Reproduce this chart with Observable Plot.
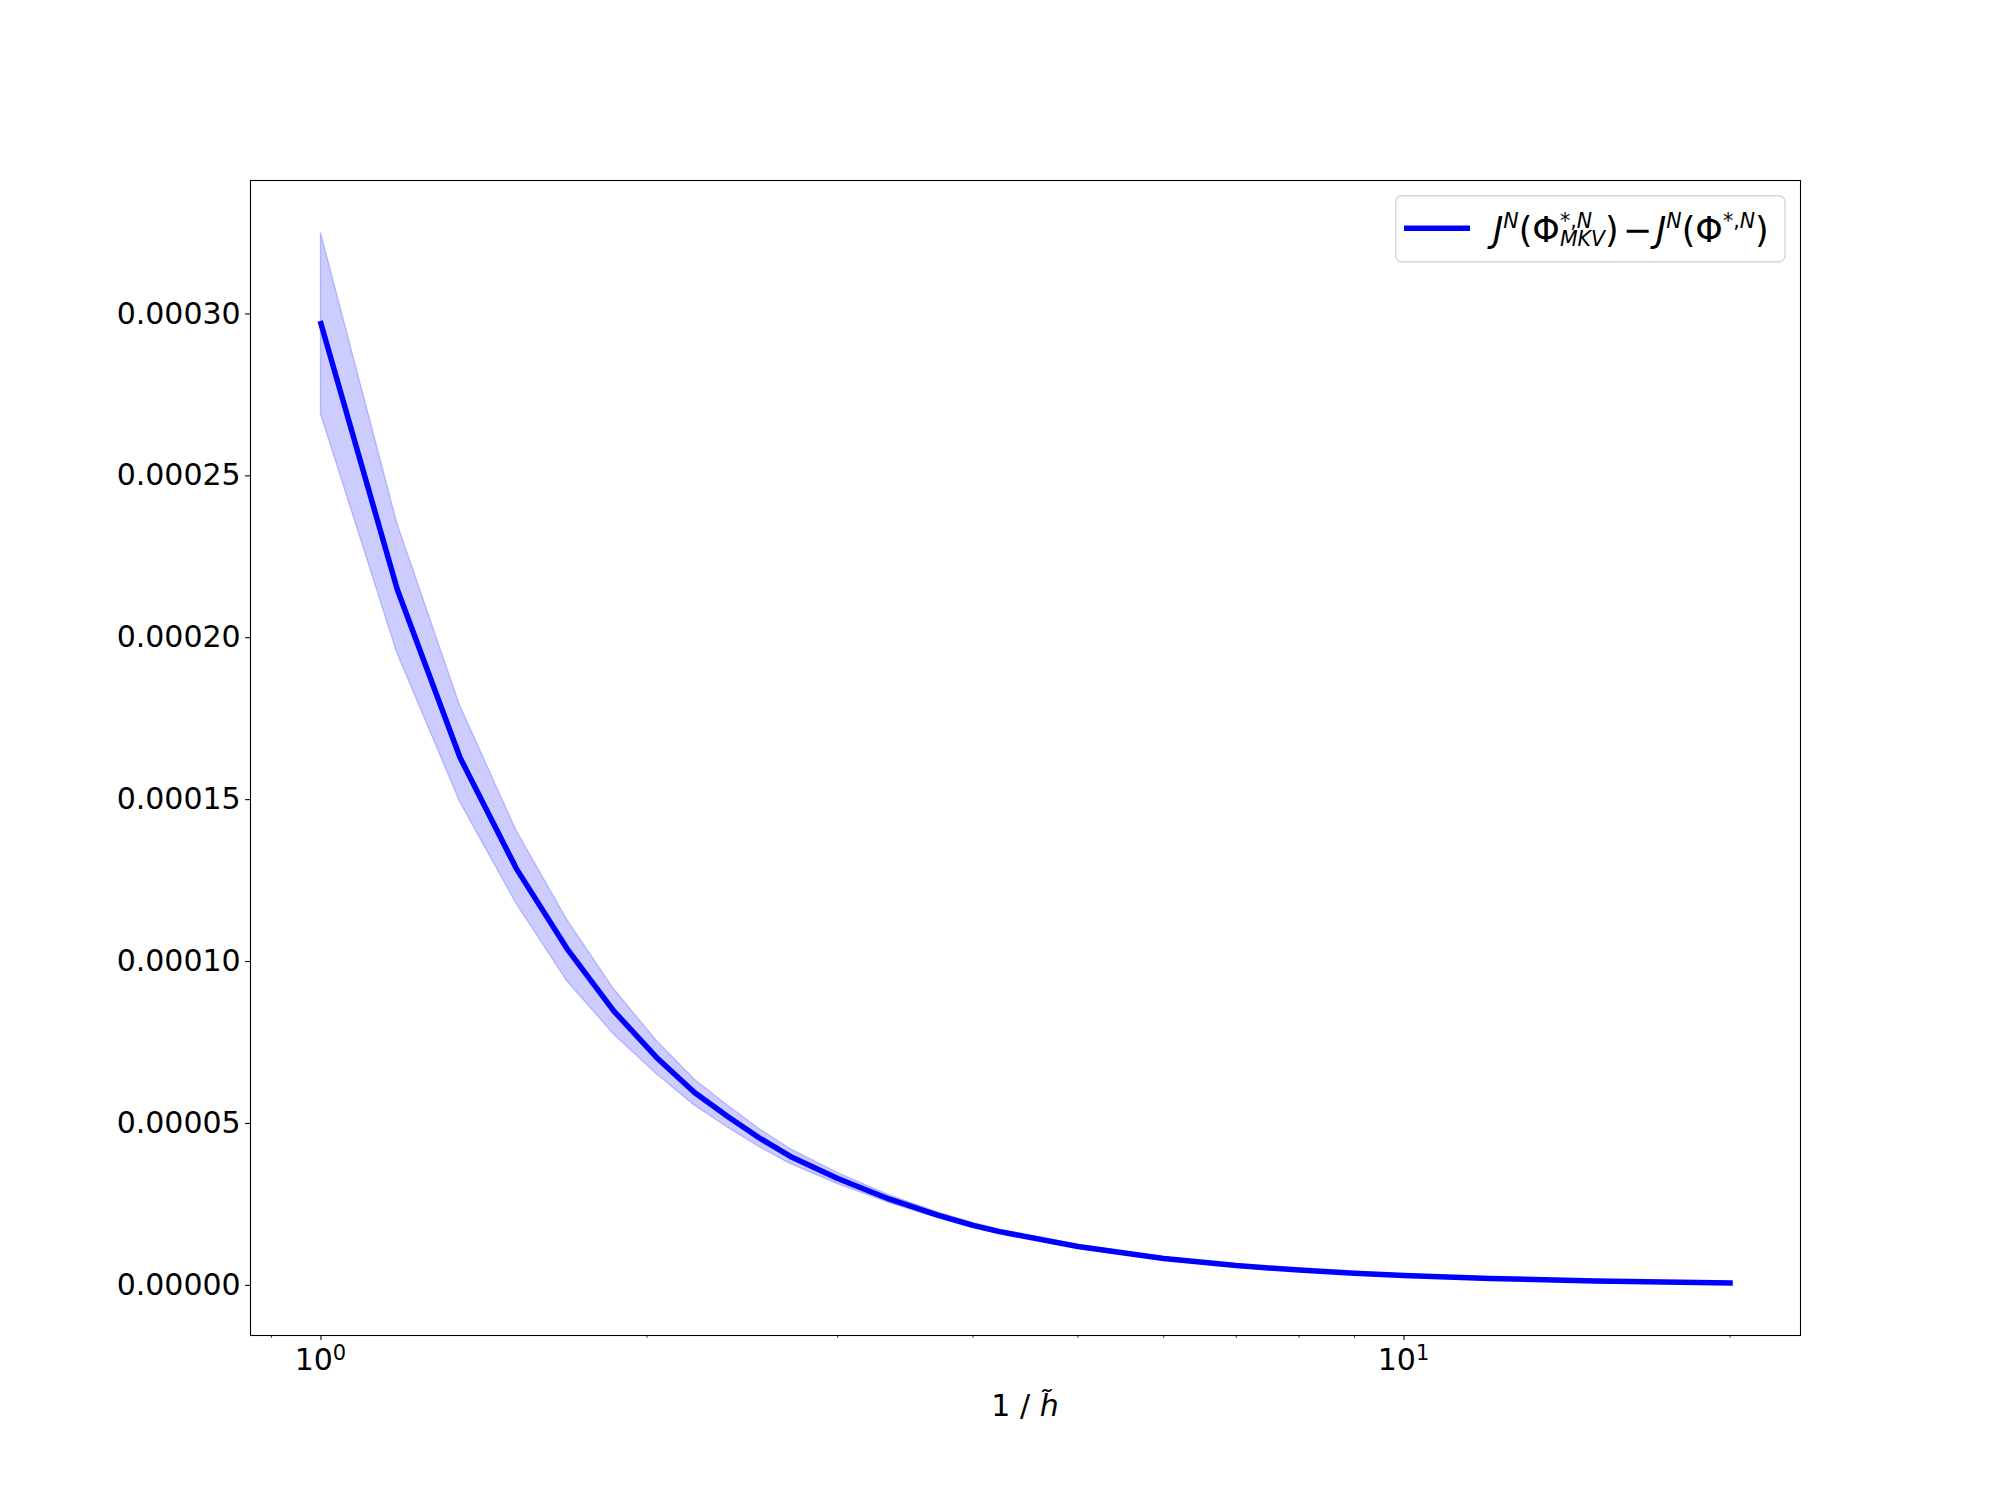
<!DOCTYPE html>
<html>
<head>
<meta charset="utf-8">
<script src="https://cdn.jsdelivr.net/npm/d3@7"></script>
<script src="https://cdn.jsdelivr.net/npm/@observablehq/plot@0.6"></script>
<style>
  html, body { margin: 0; padding: 0; background: white; }
  #chart { width: 2000px; height: 1500px; }
</style>
</head>
<body>
<div id="chart"></div>
<script>
// 1 / h~ values
const xValues = [1, 1.176, 1.344, 1.515, 1.687, 1.864, 2.042, 2.214, 2.378, 2.54, 2.713, 3.0, 3.35, 3.71, 4.0, 4.23, 5, 6, 7, 8, 9, 10, 12, 15, 20];
// mean difference (units of 1e-4)
const meanValues = [2.97, 2.15, 1.63, 1.287, 1.04, 0.847, 0.703, 0.595, 0.52, 0.455, 0.398, 0.33, 0.266, 0.217, 0.185, 0.166, 0.12, 0.083, 0.061, 0.047, 0.037, 0.030, 0.021, 0.0135, 0.0074];
// lower and upper edge of the shaded band (units of 1e-4)
const lowerValues = [2.69, 1.953, 1.493, 1.179, 0.94, 0.775, 0.652, 0.555, 0.486, 0.427, 0.375, 0.313, 0.254, 0.208, 0.177, 0.159, 0.115, 0.08, 0.059, 0.0455, 0.036, 0.029, 0.0204, 0.0131, 0.0072];
const upperValues = [3.25, 2.354, 1.791, 1.405, 1.13, 0.915, 0.755, 0.635, 0.554, 0.483, 0.421, 0.347, 0.278, 0.226, 0.193, 0.173, 0.125, 0.086, 0.063, 0.0485, 0.038, 0.031, 0.0216, 0.0139, 0.0076];
const unit = 1e-4;

const yTicks = [0, 0.00005, 0.0001, 0.00015, 0.0002, 0.00025, 0.0003];
const xMajorTicks = [1, 10];
const xMajorExponents = ["0", "1"];
const xMinorTicks = [0.9, 2, 3, 4, 5, 6, 7, 8, 9, 20];

const data = xValues.map((x, i) => ({
  x, y: meanValues[i] * unit, lo: lowerValues[i] * unit, hi: upperValues[i] * unit
}));

// matplotlib-style 5% margins
const lx0 = Math.log10(d3.min(xValues)), lx1 = Math.log10(d3.max(xValues));
const xpad = (lx1 - lx0) * 0.05;
const yMin = d3.min(data, d => d.lo), yMax = d3.max(data, d => d.hi);
const ypad = (yMax - yMin) * 0.05;

const chart = Plot.plot({
  width: 2000,
  height: 1500,
  marginLeft: 250,
  marginRight: 200,
  marginTop: 180,
  marginBottom: 165,
  x: { type: "log", domain: [Math.pow(10, lx0 - xpad), Math.pow(10, lx1 + xpad)] },
  y: { domain: [yMin - ypad, yMax + ypad] },
  style: { fontFamily: "DejaVu Sans", fontSize: "30px", color: "black", background: "white" },
  marks: [
    Plot.areaY(data, { x: "x", y1: "lo", y2: "hi", fill: "blue", fillOpacity: 0.2, stroke: "blue", strokeOpacity: 0.2, strokeWidth: 1.4 }),
    Plot.lineY(data, { x: "x", y: "y", stroke: "blue", strokeWidth: 5.5, strokeLinecap: "square", strokeLinejoin: "round" }),
    Plot.axisY({ ticks: yTicks, tickFormat: d3.format(".5f"), tickSize: 4.9, tickPadding: 4.9, label: null, strokeWidth: 1.1 }),
    Plot.axisX({ ticks: xMajorTicks, tickFormat: () => "", tickSize: 4.9, label: null, strokeWidth: 1.1 }),
    Plot.axisX({ ticks: xMinorTicks, tickFormat: () => "", tickSize: 2.8, label: null, strokeWidth: 0.8 }),
    Plot.frame({ stroke: "black", strokeWidth: 1.1 })
  ]
});

document.getElementById("chart").appendChild(chart);
const svg = d3.select(chart);
const xScale = chart.scale("x");

function piece(g, x, y, str, size, italic) {
  const t = g.append("text")
    .attr("x", x).attr("y", y)
    .attr("text-anchor", "start")
    .attr("font-family", "DejaVu Sans")
    .attr("font-size", size)
    .attr("font-style", italic ? "italic" : "normal")
    .attr("fill", "black")
    .text(str);
  return t.node().getComputedTextLength();
}

// x major tick labels 10^0, 10^1 with real superscripts
const tickG = svg.append("g");
xMajorTicks.forEach((t, i) => {
  const g = tickG.append("g");
  const w1 = piece(g, 0, 1370, "10", 30, false);
  const w2 = piece(g, w1, 1359.5, xMajorExponents[i], 21, false);
  const cx = xScale.apply(t);
  g.attr("transform", `translate(${cx - (w1 + w2) / 2},0)`);
});

// x-axis label with italic h-tilde
const xl = svg.append("text")
  .attr("x", 1025)
  .attr("y", 1416)
  .attr("text-anchor", "middle")
  .attr("font-family", "DejaVu Sans")
  .attr("font-size", 30)
  .attr("fill", "black");
xl.append("tspan").text("1 / ");
xl.append("tspan").attr("font-style", "italic").text("h\u0303");

// legend
const lg = svg.append("g");
lg.append("rect")
  .attr("x", 1395.7).attr("y", 195.7).attr("width", 389.3).attr("height", 66)
  .attr("rx", 6).attr("ry", 6)
  .attr("fill", "white").attr("fill-opacity", 0.8)
  .attr("stroke", "#d6d6d6").attr("stroke-width", 1.4);
lg.append("line")
  .attr("x1", 1404).attr("x2", 1470).attr("y1", 228.3).attr("y2", 228.3)
  .attr("stroke", "blue").attr("stroke-width", 5.5);

const base = 242, supN = 228, supStack = 228, subStack = 245.5;
const big = 35, small = 20.5;
let x = 1493;
x += piece(lg, x, base, "J", big, true);
x += piece(lg, x, supN, "N", small, true);
x += piece(lg, x, base, "(", big);
x += piece(lg, x, base, "Φ", big);
let a1 = piece(lg, x, supStack, "*,", small);
a1 += piece(lg, x + a1, supStack, "N", small, true);
const b1 = piece(lg, x, subStack, "MKV", small, true);
x += Math.max(a1, b1);
x += piece(lg, x, base, ")", big);
x += 4;
x += piece(lg, x, base, "−", big);
x += 4;
x += piece(lg, x, base, "J", big, true);
x += piece(lg, x, supN, "N", small, true);
x += piece(lg, x, base, "(", big);
x += piece(lg, x, base, "Φ", big);
let a2 = piece(lg, x, supStack, "*,", small);
a2 += piece(lg, x + a2, supStack, "N", small, true);
x += a2;
piece(lg, x, base, ")", big);
</script>
</body>
</html>
